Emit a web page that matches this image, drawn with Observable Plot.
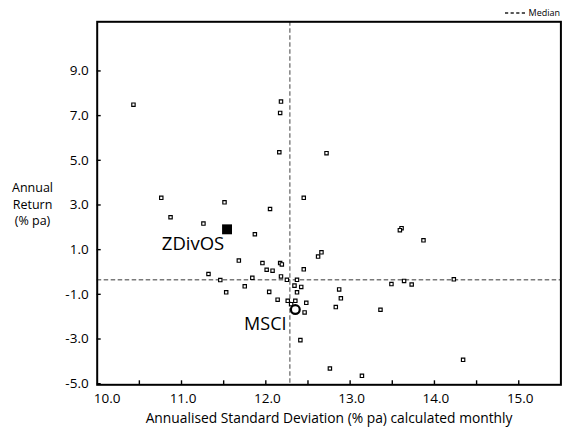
<!DOCTYPE html>
<html><head><meta charset="utf-8">
<script src="https://cdn.jsdelivr.net/npm/d3@7"></script>
<script src="https://cdn.jsdelivr.net/npm/@observablehq/plot@0.6"></script>
<style>
body{margin:0;background:#fff;font-family:"Open Sans",sans-serif;}
#wrap{position:relative;width:569px;height:428px;}
#legend{position:absolute;top:7px;right:9px;font-size:9px;display:flex;align-items:center;gap:4px;color:#000;line-height:12px;}
</style></head><body>
<div id="wrap"><div id="legend"><svg width="20" height="4"><line x1="0" y1="2" x2="20" y2="2" stroke="#222" stroke-width="1.6" stroke-dasharray="3.2,2.4"/></svg><span>Median</span></div></div>
<script>
// Peer universe: annualised standard deviation (% pa) and annual return (% pa)
const stdDev = [10.43,12.18,12.17,12.16,12.72,10.76,10.87,11.26,11.51,12.05,12.45,13.61,13.59,13.87,11.87,11.68,11.96,12.01,12.08,12.17,12.19,12.18,11.32,11.46,11.84,11.75,11.53,12.04,12.14,12.25,12.37,12.45,12.62,12.66,12.34,12.42,12.37,12.26,12.35,12.30,12.48,12.46,12.87,12.89,12.83,13.36,12.41,12.76,13.14,14.23,13.49,13.64,13.73,14.34];
const annReturn = [7.49,7.63,7.12,5.36,5.32,3.32,2.45,2.17,3.12,2.82,3.32,1.96,1.87,1.42,1.69,0.51,0.40,0.10,0.06,0.40,0.34,-0.20,-0.09,-0.36,-0.26,-0.64,-0.91,-0.89,-1.24,-0.35,-0.35,0.12,0.69,0.88,-0.61,-0.67,-0.91,-1.29,-1.29,-1.44,-1.38,-1.81,-0.78,-1.18,-1.57,-1.69,-3.05,-4.32,-4.65,-0.33,-0.54,-0.40,-0.56,-3.93];
// Highlighted funds
const fundNames = ["ZDivOS","MSCI"];
const fundSd = [11.54,12.35];
const fundRet = [1.91,-1.68];
// Medians
const medianSd = 12.285;
const medianRet = -0.345;
// Ticks
const xTickValues = [10.5,11,11.5,12,12.5,13,13.5,14,14.5,15];
const xLabelValues = [10,11,12,13,14,15];
const yLabelValues = [9,7,5,3,1,-1,-3,-5];

const peers = stdDev.map((sd,i)=>({sd, ret: annReturn[i]}));
const funds = fundNames.map((name,i)=>({name, sd: fundSd[i], ret: fundRet[i]}));

const chart = Plot.plot({
  width: 569, height: 428,
  marginLeft: 96.7, marginRight: 8.6, marginTop: 21.3, marginBottom: 43.7,
  x: {domain: [10, 15.5], axis: null},
  y: {domain: [-5.05, 11.2], axis: null},
  style: {fontFamily: '"Open Sans", sans-serif', fontSize: "12px", color: "black", background: "white"},
  marks: [
    Plot.ruleX([medianSd], {x: d=>d, stroke: "#7a7a7a", strokeWidth: 1.4, strokeDasharray: "4.5,2.5"}),
    Plot.ruleY([medianRet], {y: d=>d, stroke: "#7a7a7a", strokeWidth: 1.4, strokeDasharray: "4.5,2.5"}),
    Plot.dot(peers, {x: "sd", y: "ret", symbol: "square", r: 1.9, stroke: "black", strokeWidth: 1.15, fill: "white"}),
    Plot.dot(funds.filter(d=>d.name==="ZDivOS"), {x: "sd", y: "ret", symbol: "square", r: 5.6, fill: "black", stroke: "none"}),
    Plot.dot(funds.filter(d=>d.name==="MSCI"), {x: "sd", y: "ret", symbol: "circle", r: 4.4, fill: "white", stroke: "black", strokeWidth: 2.2}),
    Plot.text(funds.filter(d=>d.name==="ZDivOS"), {x: "sd", y: "ret", text: "name", dx: -34, dy: 14.5, fontSize: 18.5, textAnchor: "middle"}),
    Plot.text(funds.filter(d=>d.name==="MSCI"), {x: "sd", y: "ret", text: "name", dx: -30, dy: 14.5, fontSize: 18, textAnchor: "middle"}),
    Plot.axisX({ticks: xTickValues, anchor: "bottom", tickSize: 4, dy: -4, tickFormat: () => "", label: null, strokeWidth: 1.4}),
    Plot.axisY({ticks: yLabelValues, anchor: "left", tickSize: 4, dx: 4, tickFormat: () => "", label: null, strokeWidth: 1.4}),
    Plot.text(xLabelValues.filter(d=>d===10), {x: d=>d, frameAnchor: "bottom", dy: 14, dx: 10, text: d=>d.toFixed(1), fontSize: 13.5, lineAnchor: "middle"}),
    Plot.text(xLabelValues.filter(d=>d!==10), {x: d=>d, frameAnchor: "bottom", dy: 14, dx: 1.5, text: d=>d.toFixed(1), fontSize: 13.5, lineAnchor: "middle"}),
    Plot.text(yLabelValues, {y: d=>d, frameAnchor: "left", dx: -8.5, textAnchor: "end", text: d=>d.toFixed(1), fontSize: 13.5}),
    Plot.text(["Annual\nReturn\n(% pa)"], {frameAnchor: "left", dx: -64.7, textAnchor: "middle", lineHeight: 1.3, fontSize: 12.5}),
    Plot.text(["Annualised Standard Deviation (% pa) calculated monthly"], {frameAnchor: "bottom", dy: 34, fontSize: 13.8, lineAnchor: "middle"}),
    Plot.frame({stroke: "black", strokeWidth: 2})
  ]
});
document.getElementById("wrap").prepend(chart);
chart.style.position = "absolute";
chart.style.left = "0"; chart.style.top = "0";
</script>
</body></html>
